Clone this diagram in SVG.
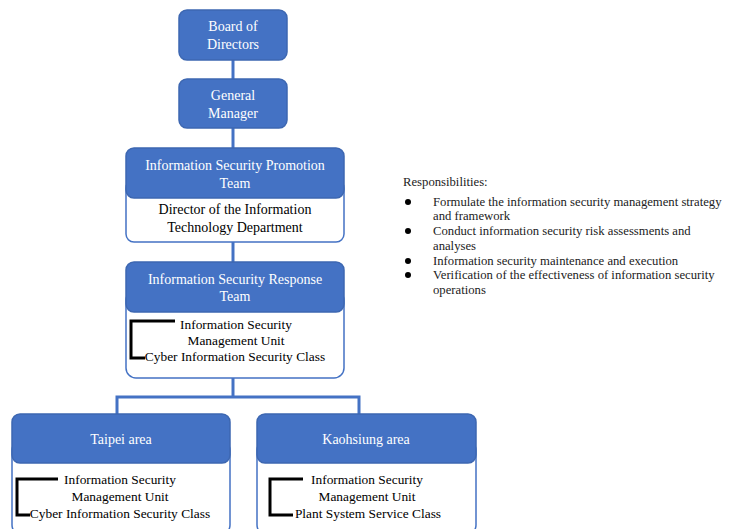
<svg xmlns="http://www.w3.org/2000/svg" width="747" height="529" viewBox="0 0 747 529">
<style>
.blue{fill:#4472C4;stroke:#3D67B1;stroke-width:1.5}
.white{fill:#fff;stroke:#4472C4;stroke-width:1.5}
.wt{font-family:"Liberation Serif",serif;font-size:14px;fill:#fff;text-anchor:middle}
.bt{font-family:"Liberation Serif",serif;font-size:14px;fill:#000;text-anchor:middle}
.st{font-family:"Liberation Serif",serif;font-size:13.4px;fill:#000;text-anchor:middle}
.rt{font-family:"Liberation Serif",serif;font-size:12.7px;fill:#222}
.br{fill:none;stroke:#000;stroke-width:3}
.conn{fill:none;stroke:#4472C4;stroke-width:3}
</style>
<rect width="747" height="529" fill="#fff"/>
<g id="connectors">
<line class="conn" x1="233" y1="60" x2="233" y2="79"/>
<line class="conn" x1="233" y1="128" x2="233" y2="148"/>
<line class="conn" x1="233" y1="242" x2="233" y2="262"/>
<polyline class="conn" points="233,378 233,397"/>
<polyline class="conn" points="117,414 117,397 359,397 359,414"/>
</g>
<g id="board">
<rect class="blue" x="179" y="10" width="108" height="50" rx="8"/>
<text class="wt" x="233" y="31">Board of</text>
<text class="wt" x="233" y="49">Directors</text>
</g>
<g id="gm">
<rect class="blue" x="179" y="79" width="108" height="49" rx="8"/>
<text class="wt" x="233" y="100">General</text>
<text class="wt" x="233" y="118">Manager</text>
</g>
<g id="promotion">
<rect class="white" x="126" y="180" width="218" height="62" rx="8"/>
<rect class="blue" x="126" y="148" width="218" height="50" rx="8"/>
<text class="wt" x="235" y="170">Information Security Promotion</text>
<text class="wt" x="235" y="188">Team</text>
<text class="bt" x="235" y="214">Director of the Information</text>
<text class="bt" x="235" y="232">Technology Department</text>
</g>
<g id="response">
<rect class="white" x="126" y="290" width="218" height="88" rx="10"/>
<rect class="blue" x="126" y="262" width="218" height="50" rx="8"/>
<text class="wt" x="235" y="284">Information Security Response</text>
<text class="wt" x="235" y="301">Team</text>
<polyline class="br" points="175,321 131,321 131,358 145,358"/>
<text class="st" x="236" y="329">Information Security</text>
<text class="st" x="236" y="345">Management Unit</text>
<text class="st" x="235" y="361">Cyber Information Security Class</text>
</g>
<g id="taipei">
<rect class="white" x="12" y="440" width="218" height="95" rx="10"/>
<rect class="blue" x="12" y="414" width="218" height="49" rx="8"/>
<text class="wt" x="121" y="444">Taipei area</text>
<polyline class="br" points="58,479 17,479 17,515 30,515"/>
<text class="st" x="120" y="484">Information Security</text>
<text class="st" x="120" y="501">Management Unit</text>
<text class="st" x="120" y="518">Cyber Information Security Class</text>
</g>
<g id="kaohsiung">
<rect class="white" x="257" y="440" width="219" height="95" rx="10"/>
<rect class="blue" x="257" y="414" width="219" height="49" rx="8"/>
<text class="wt" x="366" y="444">Kaohsiung area</text>
<polyline class="br" points="303,479 270,479 270,515 293,515"/>
<text class="st" x="367" y="484">Information Security</text>
<text class="st" x="367" y="501">Management Unit</text>
<text class="st" x="368" y="518">Plant System Service Class</text>
</g>
<g id="responsibilities">
<text class="rt" x="403" y="186">Responsibilities:</text>
<circle cx="408" cy="202" r="3" fill="#000"/>
<circle cx="408" cy="231" r="3" fill="#000"/>
<circle cx="408" cy="261" r="3" fill="#000"/>
<circle cx="408" cy="275" r="3" fill="#000"/>
<text class="rt" x="433" y="206">Formulate the information security management strategy</text>
<text class="rt" x="433" y="220">and framework</text>
<text class="rt" x="433" y="235">Conduct information security risk assessments and</text>
<text class="rt" x="433" y="250">analyses</text>
<text class="rt" x="433" y="265">Information security maintenance and execution</text>
<text class="rt" x="433" y="279">Verification of the effectiveness of information security</text>
<text class="rt" x="433" y="294">operations</text>
</g>
</svg>
